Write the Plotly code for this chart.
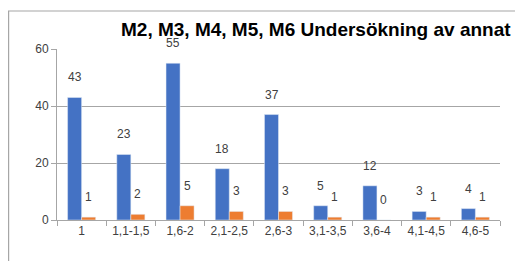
import plotly.graph_objects as go

categories = ["1", "1,1-1,5", "1,6-2", "2,1-2,5", "2,6-3", "3,1-3,5", "3,6-4", "4,1-4,5", "4,6-5"]
series_a = [43, 23, 55, 18, 37, 5, 12, 3, 4]
series_b = [1, 2, 5, 3, 3, 1, 0, 1, 1]
y_ticks = [0, 20, 40, 60]
title_text = "M2, M3, M4, M5, M6 Undersökning av annat"

BLUE = "#4472C4"
ORANGE = "#ED7D31"
FONT = "Liberation Sans"

W, H = 523, 261
OFF = 8  # page body margin
L, R, T, B = 57 - OFF, 23 + OFF, 49 - OFF, 41 + OFF
pw, ph = W - L - R, H - T - B

fig = go.Figure()
fig.add_trace(go.Bar(x=categories, y=series_a, marker_color=BLUE, name="A"))
fig.add_trace(go.Bar(x=categories, y=series_b, marker_color=ORANGE, name="B"))

annotations = []
for i, (a, b) in enumerate(zip(series_a, series_b)):
    annotations.append(dict(x=i, y=a, text=str(a), showarrow=False, xshift=-7, yshift=20,
                            yanchor="middle", font=dict(family=FONT, size=12, color="#404040")))
    annotations.append(dict(x=i, y=b, text=str(b), showarrow=False, xshift=7, yshift=20,
                            yanchor="middle", font=dict(family=FONT, size=12, color="#404040")))

annotations.append(dict(xref="paper", yref="paper", x=(316 - 57) / pw, y=(220 - 30) / ph,
                        text="<b>" + title_text + "</b>", showarrow=False,
                        xanchor="center", yanchor="middle",
                        font=dict(family=FONT, size=19, color="#000000")))

fig.update_layout(
    width=W, height=H,
    margin=dict(l=L, r=R, t=T, b=B),
    paper_bgcolor="white", plot_bgcolor="white",
    barmode="group", bargap=0.43, bargroupgap=0,
    showlegend=False,
    annotations=annotations,
    shapes=[dict(type="rect", xref="paper", yref="paper",
                 x0=(0.6 - L) / pw, x1=(540 - L) / pw,
                 y0=(H - B - 280) / ph, y1=(H - B - 3) / ph,
                 line=dict(color="#A6A6A6", width=1.2), fillcolor="rgba(0,0,0,0)", layer="below")],
)
fig.update_xaxes(type="category", showline=True, linecolor="#A6A6A6", linewidth=1,
                 ticks="outside", tickson="boundaries", ticklen=5, tickcolor="#A6A6A6",
                 tickfont=dict(family=FONT, size=12, color="#404040"), showgrid=False)
fig.update_yaxes(range=[0, 60], tickvals=y_ticks, showline=True, linecolor="#A6A6A6", linewidth=1,
                 ticks="outside", ticklen=5, tickcolor="#A6A6A6",
                 showgrid=True, gridcolor="#A6A6A6", gridwidth=1, zeroline=False,
                 tickfont=dict(family=FONT, size=12, color="#404040"))

fig.write_html("out.html")
